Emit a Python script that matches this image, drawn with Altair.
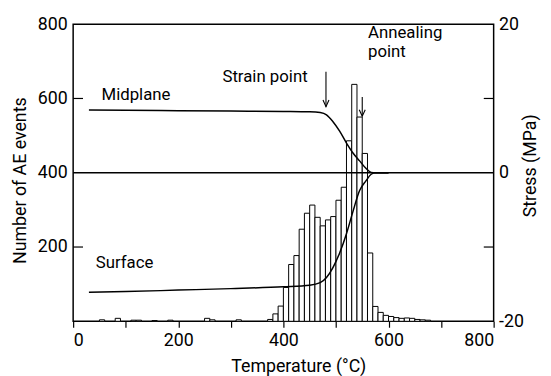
import altair as alt
import pandas as pd

# ---- data ----
# AE event histogram, 10 degC bins (bin start temperature, count)
bin_start = [50, 80, 110, 120, 150, 180, 250, 260, 310, 370,
             380, 390, 400, 410, 420, 430, 440, 450, 460, 470,
             480, 490, 500, 510, 520, 530, 540, 550, 560, 570,
             580, 590, 600, 610, 620, 630, 640, 650, 660, 670]
counts = [4, 8, 3, 3, 2, 3, 8, 4, 4, 5,
          20, 41, 91, 153, 177, 248, 291, 313, 280, 257,
          273, 282, 326, 361, 486, 638, 550, 452, 184, 40,
          24, 16, 13, 10, 8, 9, 8, 5, 4, 3]

# Stress curves (temperature degC, stress MPa)
curve_T = [30, 100, 200, 300, 400, 450, 470, 482, 494, 507, 520, 532, 545, 557, 567, 575, 600]
mid_S = [8.45, 8.4, 8.35, 8.3, 8.25, 8.2, 8.1, 7.8, 6.9, 5.6, 4.0, 2.7, 1.6, 0.6, 0.05, 0.0, 0.0]
surf_S = [-16.1, -16.0, -15.8, -15.6, -15.35, -15.15, -14.8, -14.1, -12.8, -10.8, -8.2, -5.3, -2.4, -1.1, -0.2, 0.0, 0.0]

zero_T = [0, 800]
zero_S = [0, 0]

label_text = ["Midplane", "Surface", "Strain point", "Annealing", "point"]
label_T = [54, 43, 284, 561, 561]
label_S = [10.4, -12.2, 12.9, 18.8, 16.2]

arrow_T = [481, 550]
arrow_from = [13.6, 10.2]
arrow_to = [8.9, 7.6]

x_ticks = [0, 100, 200, 300, 400, 500, 600, 700, 800]
left_ticks = [200, 600]
right_ticks = [-10, 10]

FONT = "Roboto"
FS = 18

hist = pd.DataFrame({"start": bin_start, "count": counts})
curves = pd.concat([
    pd.DataFrame({"T": curve_T, "S": mid_S, "series": "Midplane"}),
    pd.DataFrame({"T": curve_T, "S": surf_S, "series": "Surface"}),
])
zero = pd.DataFrame({"T": zero_T, "S": zero_S})
labels = pd.DataFrame({"T": label_T, "S": label_S, "text": label_text})
arrows = pd.DataFrame({"T": arrow_T, "S": arrow_from, "S2": arrow_to})
lt = pd.DataFrame({"v": left_ticks})
rt = pd.DataFrame({"v": right_ticks})

x_scale = alt.Scale(domain=[0, 800], nice=False)
x_axis = alt.Axis(values=x_ticks,
                  labelExpr="datum.value % 200 == 0 ? datum.label : ''",
                  tickSize=6, tickWidth=1.2, tickColor="black",
                  labelPadding=5, title="Temperature (°C)",
                  titleX=228, titleY=51, titleAlign="center", titleBaseline="alphabetic",
                  grid=False, domain=False)
left_scale = alt.Scale(domain=[0, 800], nice=False)
left_axis = alt.Axis(values=[200, 400, 600, 800], ticks=False, labelPadding=6,
                     title="Number of AE events",
                     titleX=-53, titleY=158, titleAngle=270, titleAlign="center",
                     titleBaseline="middle", grid=False, domain=False)
right_scale = alt.Scale(domain=[-20, 20], nice=False)
right_axis = alt.Axis(orient="right", values=[-20, 0, 20], ticks=False, labelPadding=5,
                      labelExpr="datum.value < 0 ? '-' + abs(datum.value) : datum.label",
                      title="Stress (MPa)", titleX=37, titleY=143, titleAngle=270,
                      titleAlign="center", titleBaseline="middle",
                      grid=False, domain=False)

X = lambda f: alt.X(f, type="quantitative", scale=x_scale, axis=x_axis)
YL = lambda f: alt.Y(f, type="quantitative", scale=left_scale, axis=left_axis)
YR = lambda f: alt.Y(f, type="quantitative", scale=right_scale, axis=right_axis)

bars = alt.Chart(hist).transform_calculate(end="datum.start + 10").mark_rect(
    fill="white", stroke="black", strokeWidth=1
).encode(x=X("start"), x2="end:Q", y=YL("count"), y2=alt.datum(0))

lticks = alt.Chart(lt).mark_rule(color="black", strokeWidth=1.2).encode(
    y=YL("v"), x=alt.value(0), x2=alt.value(10))

left_group = alt.layer(bars, lticks)

zero_line = alt.Chart(zero).mark_line(color="black", strokeWidth=1.3).encode(
    x=X("T"), y=YR("S"))
lines = alt.Chart(curves).mark_line(color="black", strokeWidth=1.5, interpolate="monotone").encode(
    x=X("T"), y=YR("S"), detail="series:N")
texts = alt.Chart(labels).mark_text(font=FONT, fontSize=17, align="left", baseline="middle",
                                    color="black").encode(
    x=X("T"), y=YR("S"), text="text:N")
arrow_shaft = alt.Chart(arrows).mark_rule(color="black", strokeWidth=1.1).encode(
    x=X("T"), y=YR("S"), y2="S2:Q")
arrow_head = alt.Chart(arrows).mark_point(
    shape="M -0.45 -1 L 0 0 L 0.45 -1", filled=False, color="black",
    strokeWidth=1.1, size=180, opacity=1
).encode(x=X("T"), y=YR("S2"))
rticks = alt.Chart(rt).mark_rule(color="black", strokeWidth=1.2).encode(
    y=YR("v"), x=alt.value(416), x2=alt.value(426))

right_group = alt.layer(zero_line, lines, arrow_shaft, arrow_head, texts, rticks)

chart = alt.layer(left_group, right_group).resolve_scale(y="independent").properties(
    width=426, height=301,
    background="white",
    autosize=alt.AutoSizeParams(type="none"),
    padding={"left": 66, "top": 14, "right": 50, "bottom": 53},
).configure_view(stroke="black", strokeWidth=1.5).configure_axis(
    labelFont=FONT, labelFontSize=FS, labelColor="black",
    titleFont=FONT, titleFontSize=FS, titleFontWeight="normal", titleColor="black",
)

chart.save("out.html", embed_options={"renderer": "svg", "actions": False})
